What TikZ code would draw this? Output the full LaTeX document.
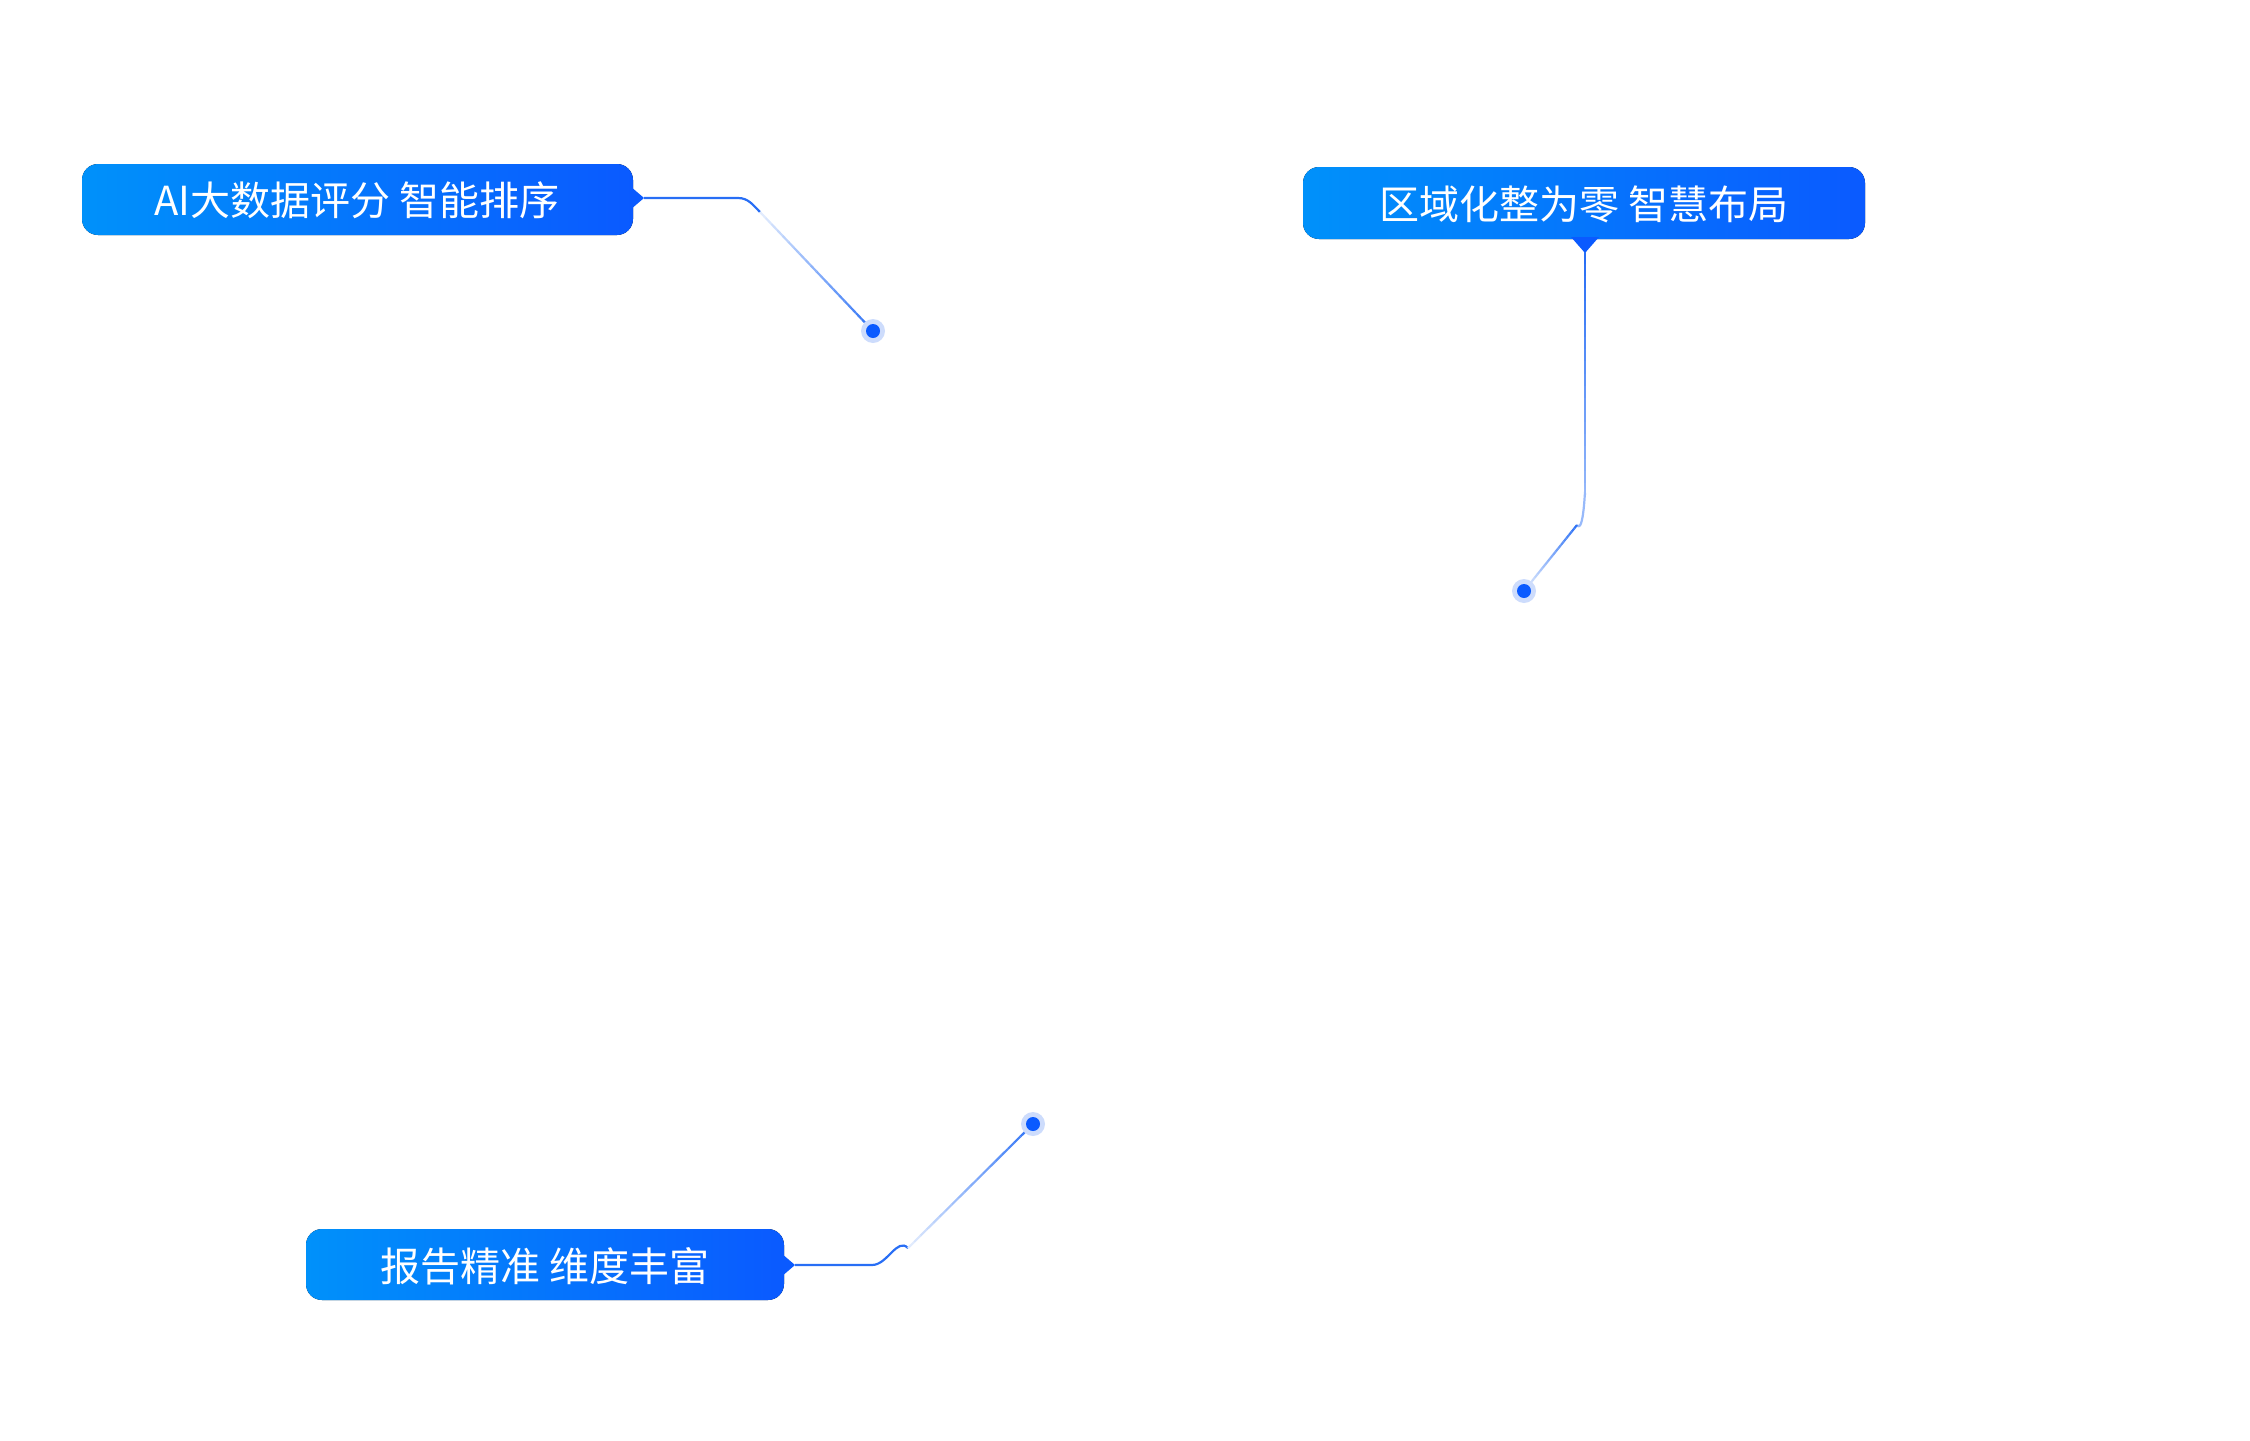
\documentclass[tikz,border=0pt]{standalone}
\usepackage{fontspec}
\newfontfamily\cjk{Noto Sans CJK SC}
\usetikzlibrary{calc}
\definecolor{bl}{RGB}{10,90,255}
\definecolor{cy}{RGB}{0,145,250}
\definecolor{halo}{RGB}{205,220,252}
\definecolor{ln}{RGB}{40,110,245}
\definecolor{lnl}{RGB}{225,235,253}
\tikzset{
 x=1pt,y=-1pt,
 tag/.style={rounded corners=16pt,left color=cy,right color=bl,draw=none},
 lbl/.style={text=white,font=\cjk\fontsize{40}{40}\selectfont,anchor=center},
 conn/.style={ln,line width=2.2pt},
}
\newcommand\fadeline[2]{%
 \foreach \i in {0,...,19}{
  \pgfmathsetmacro\a{\i/20}\pgfmathsetmacro\b{(\i+1)/20}\pgfmathsetmacro\c{100-\i*5}
  \draw[line width=2.2pt,color=lnl!\c!ln] ($(#1)!\a!(#2)$) -- ($(#1)!\b!(#2)$);}}
\newcommand\dotat[1]{\fill[halo] (#1) circle (12); \fill[bl] (#1) circle (7);}
\begin{document}
\begin{tikzpicture}
\useasboundingbox (0,0) rectangle (2250,1440);
% box 1
\fill[tag] (82,164) rectangle (633,235);
\fill[bl] (630,186) -- (644,198) -- (630,210) -- cycle;
\node[lbl] (t1) at (357,200) {AI大数据评分 智能排序};
\coordinate (p1) at (644,198);
\coordinate (d1) at (873,331);
\coordinate (k1) at (738,198);
\coordinate (k1b) at (760,212);
\draw[conn] (p1) -- (k1) to[out=0,in=135] (k1b);
\fadeline{k1b}{d1}
\dotat{d1}
% box 2
\fill[tag] (1303,167) rectangle (1865,239);
\fill[bl] (1571,237) -- (1585,253) -- (1599,237) -- cycle;
\node[lbl] (t2) at (1584,204) {区域化整为零 智慧布局};
\coordinate (p2) at (1585,252);
\coordinate (k2) at (1585,495);
\coordinate (k2b) at (1577,525);
\coordinate (d2) at (1524,591);
\fill[white] (1584,252) rectangle (1586,253);
\foreach \i in {0,...,19}{
  \pgfmathsetmacro\a{\i/20}\pgfmathsetmacro\b{(\i+1)/20}\pgfmathsetmacro\c{\i*3}
  \draw[line width=2.2pt,color=lnl!\c!ln] ($(p2)!\a!(k2)$) -- ($(p2)!\b!(k2)$);}
\draw[line width=2.2pt,color=lnl!60!ln] (k2) to[out=90,in=-55] (k2b);
\fadeline{d2}{k2b}
\dotat{d2}
% box 3
\fill[tag] (306,1229) rectangle (784,1300);
\fill[bl] (781,1253) -- (795,1265) -- (781,1277) -- cycle;
\node[lbl] (t3) at (545,1266) {报告精准 维度丰富};
\coordinate (p3) at (795,1265);
\coordinate (k3) at (872,1265);
\coordinate (k3b) at (908,1248);
\coordinate (d3) at (1033,1124);
\draw[conn] (p3) -- (k3) to[out=0,in=135] (k3b);
\fadeline{k3b}{d3}
\dotat{d3}
\end{tikzpicture}
\end{document}
